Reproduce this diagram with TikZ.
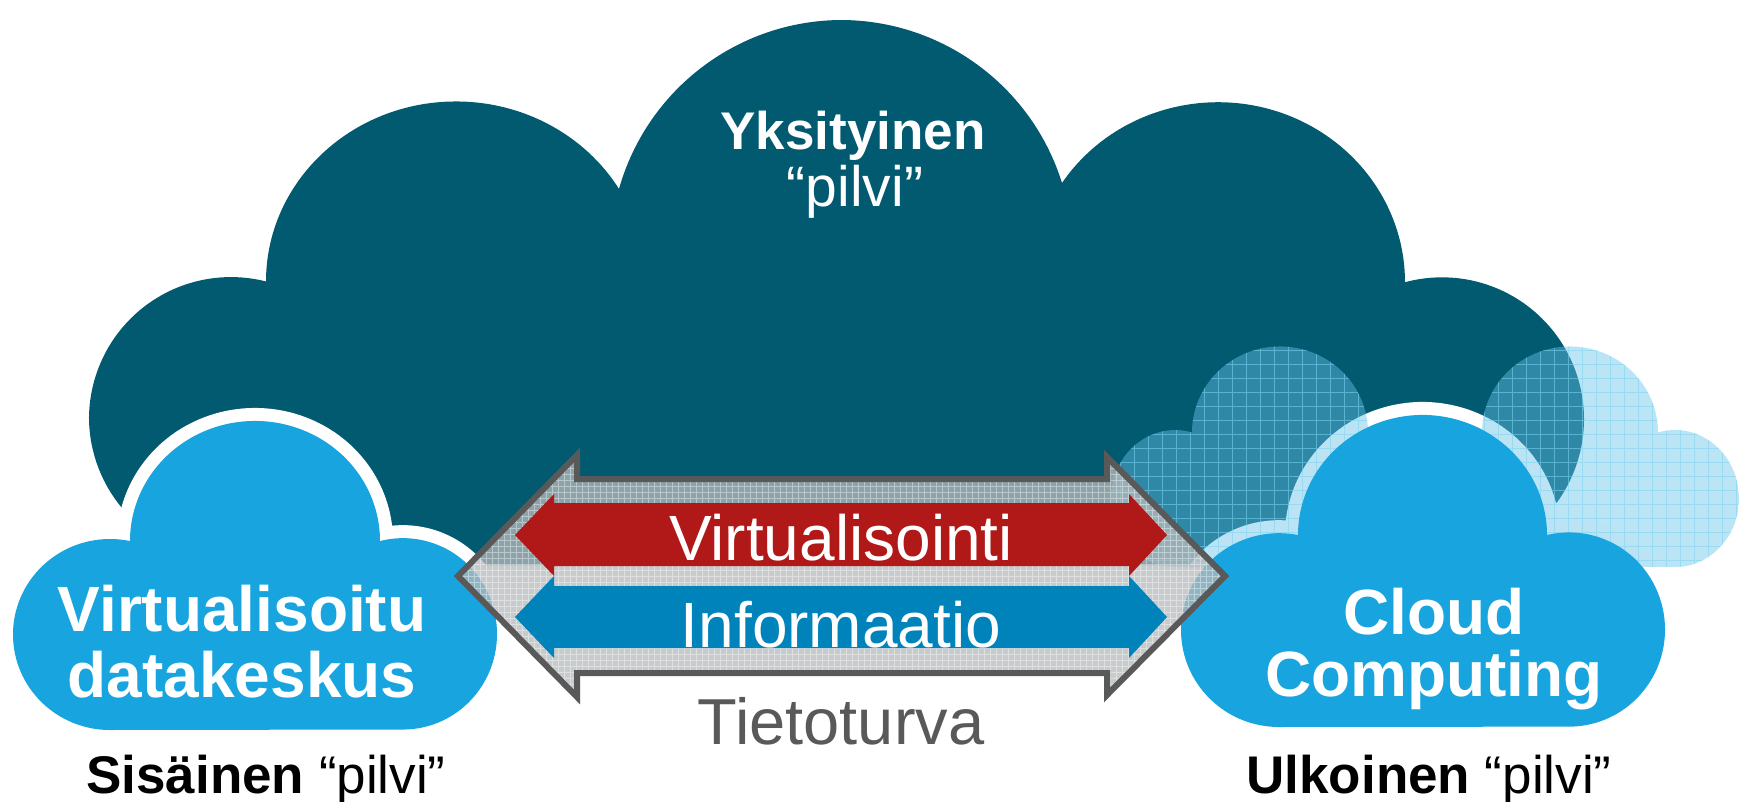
\documentclass[tikz,border=0pt]{standalone}
\usepackage{fontspec}
\setmainfont{Liberation Sans}
\usetikzlibrary{svg.path}
\definecolor{darkcloud}{RGB}{1, 90, 112}
\definecolor{frontcloud}{RGB}{24, 164, 222}
\definecolor{hatchcloud}{RGB}{105, 195, 232}
\definecolor{hatchline}{RGB}{125, 212, 242}
\definecolor{shieldgray}{RGB}{183, 186, 188}
\definecolor{edgegray}{RGB}{89, 89, 89}
\definecolor{virtred}{RGB}{176, 25, 23}
\definecolor{infoblue}{RGB}{0, 131, 187}
\tikzset{
    bigshape/.style = {insert path={svg "M 122 508 A 142 142 0 0 1 89 419 A 142 142 0 0 1 266 283 A 190 180 0 0 1 619 189 A 232 232 0 0 1 841 20 A 232 232 0 0 1 1062 183 A 187 180 0 0 1 1405 283 A 142 142 0 0 1 1584 419 A 142 142 0 0 1 1558 501 L 1500 565 L 180 565 Z"}},
    innershape/.style = {insert path={svg "M 110 730 A 97 95.5 0 0 1 13 634.5 A 97 95.5 0 0 1 130 541 A 125 120 0 0 1 255 421 A 125 120 0 0 1 380 541 A 94 95.5 0 0 1 497 634.5 A 94 95.5 0 0 1 403 730 Z"}},
    outershape/.style = {insert path={svg "M 1279 727 A 98 97 0 0 1 1181 630 A 98 97 0 0 1 1298 535 A 125 120 0 0 1 1423 415 A 125 120 0 0 1 1547 535 A 96 97 0 0 1 1665 630 A 96 97 0 0 1 1569 727 Z"}},
    hatchleft/.style = {insert path={svg "M 1175 567 A 64 68.5 0 0 1 1111 498.5 A 64 68.5 0 0 1 1192 432.5 A 88 86 0 0 1 1280 346.5 A 88 86 0 0 1 1368 432.5 A 64 68.5 0 0 1 1449 498.5 A 64 68.5 0 0 1 1385 567 Z"}},
    hatchright/.style = {insert path={svg "M 1465 567 A 64 68.5 0 0 1 1401 498.5 A 64 68.5 0 0 1 1482 432.5 A 88 86 0 0 1 1570 346.5 A 88 86 0 0 1 1658 432.5 A 64 68.5 0 0 1 1739 498.5 A 64 68.5 0 0 1 1675 567 Z"}},
    halo/.style = {draw=white, fill=white, line width=26pt, line join=round},
    hatchfill/.style = {fill=hatchcloud, fill opacity=0.45},
    hatchgrid/.style = {draw=hatchline, draw opacity=0.55, line width=0.8pt},
    titletext/.style = {anchor=base, align=center, inner sep=0pt, text=white, font=\fontsize{64}{68}\selectfont\bfseries},
    bandtext/.style = {anchor=base, inner sep=0pt, text=white, font=\fontsize{64}{70}\selectfont},
    captiontext/.style = {anchor=base, inner sep=0pt, text=black, font=\fontsize{53}{56}\selectfont},
    every text node part/.style={align=center}
}

\begin{document}
\begin{tikzpicture}[x=1pt, y=1pt, yscale=-1]
\useasboundingbox (0,0) rectangle (1739,802);

% clouds at the back
\fill[darkcloud, bigshape];
\path[halo, innershape];
\path[halo, outershape];
\begin{scope}
  \clip[hatchleft];
  \fill[hatchfill] (1100,330) rectangle (1460,580);
  \draw[hatchgrid] (1100,330) grid[step=14pt] (1460,580);
\end{scope}
\begin{scope}
  \clip[hatchright];
  \fill[hatchfill] (1390,330) rectangle (1739,580);
  \draw[hatchgrid] (1390,330) grid[step=14pt] (1739,580);
\end{scope}

% clouds in front
\fill[frontcloud, innershape];
\fill[frontcloud, outershape];

% the wide arrow
\begin{scope}
  \clip (458,576) -- (577,455) -- (577,479) -- (1107,479) -- (1107,457) -- (1225,576)
     -- (1107,695) -- (1107,673) -- (577,673) -- (577,697) -- cycle;
  \fill[shieldgray, fill opacity=0.76] (450,440) rectangle (1230,710);
  \draw[white, draw opacity=0.4, line width=0.8pt] (450,440) grid[step=6pt] (1230,710);
\end{scope}
\draw[edgegray, line width=6pt, miter limit=10] (458,576) -- (577,455) -- (577,479) -- (1107,479)
  -- (1107,457) -- (1225,576) -- (1107,695) -- (1107,673) -- (577,673) -- (577,697) -- cycle;

% the two bands
\fill[virtred] (515,535) -- (554,494) -- (554,503) -- (1129,503) -- (1129,494) -- (1167,535)
  -- (1129,576) -- (1129,566) -- (554,566) -- (554,576) -- cycle;
\fill[infoblue] (515,617) -- (554,576) -- (554,586) -- (1129,586) -- (1129,576) -- (1167,617)
  -- (1129,658) -- (1129,648) -- (554,648) -- (554,658) -- cycle;

% labels
\node[titletext, font=\fontsize{53}{56}\selectfont\bfseries] (privatetitle) at (853,150) {Yksityinen};
\node[titletext, font=\fontsize{57}{60}\selectfont] (privatesub) at (855,207) {“pilvi”};
\node[titletext] (innertitle) at (242,631) {Virtualisoitu};
\node[titletext] (innersub) at (242,697) {datakeskus};
\node[titletext] (outertitle) at (1434,634) {Cloud};
\node[titletext] (outersub) at (1434,696) {Computing};
\node[bandtext] (virt) at (841,560) {Virtualisointi};
\node[bandtext] (info) at (841,647) {Informaatio};
\node[bandtext, text=edgegray, font=\fontsize{65}{68}\selectfont] (security) at (841,744) {Tietoturva};
\node[captiontext] (innercap) at (266,793) {\textbf{Sisäinen} “pilvi”};
\node[captiontext] (outercap) at (1429,793) {\textbf{Ulkoinen} “pilvi”};
\end{tikzpicture}
\end{document}
